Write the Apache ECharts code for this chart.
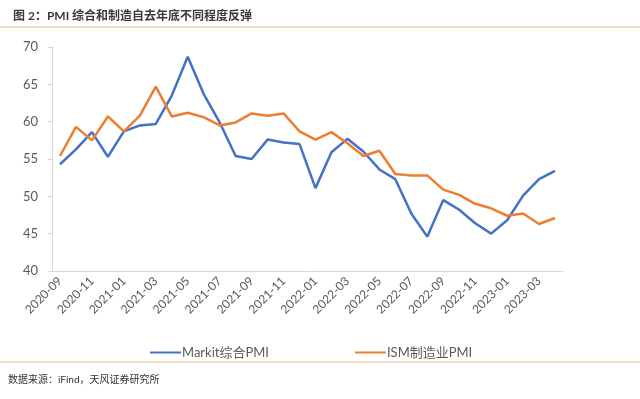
<!DOCTYPE html>
<html>
<head>
<meta charset="utf-8">
<script src="https://cdn.jsdelivr.net/npm/echarts@6/dist/echarts.min.js"></script>
<style>
  html, body { margin: 0; padding: 0; background: #fff; }
  #main { width: 640px; height: 399px; }
</style>
</head>
<body>
<div id="main"></div>
<script>
// 月份
const months = [
  '2020-09', '2020-10', '2020-11', '2020-12', '2021-01', '2021-02', '2021-03', '2021-04',
  '2021-05', '2021-06', '2021-07', '2021-08', '2021-09', '2021-10', '2021-11', '2021-12',
  '2022-01', '2022-02', '2022-03', '2022-04', '2022-05', '2022-06', '2022-07', '2022-08',
  '2022-09', '2022-10', '2022-11', '2022-12', '2023-01', '2023-02', '2023-03', '2023-04'
];
const markitPMI = [
  54.3, 56.3, 58.6, 55.3, 58.7, 59.5, 59.7, 63.5,
  68.7, 63.7, 59.9, 55.4, 55.0, 57.6, 57.2, 57.0,
  51.1, 55.9, 57.7, 56.0, 53.6, 52.3, 47.7, 44.6,
  49.5, 48.2, 46.4, 45.0, 46.8, 50.1, 52.3, 53.4
];
const ismPMI = [
  55.4, 59.3, 57.5, 60.7, 58.7, 60.8, 64.7, 60.7,
  61.2, 60.6, 59.5, 59.9, 61.1, 60.8, 61.1, 58.7,
  57.6, 58.6, 57.1, 55.4, 56.1, 53.0, 52.8, 52.8,
  50.9, 50.2, 49.0, 48.4, 47.4, 47.7, 46.3, 47.1
];
const seriesNames = ['Markit综合PMI', 'ISM制造业PMI'];
const titleText = '图 2：PMI 综合和制造自去年底不同程度反弹';
const sourceText = '数据来源：iFind，天风证券研究所';

const font = "Lato, 'Noto Sans CJK SC', sans-serif";
const chart = echarts.init(document.getElementById('main'));

chart.setOption({
  backgroundColor: '#ffffff',
  animation: false,
  color: ['#4472C4', '#ED7D31'],
  textStyle: { fontFamily: font },
  title: {
    text: titleText,
    left: 8,
    top: 5,
    textStyle: { fontSize: 12, fontWeight: 'bold', color: '#3a3a3a', fontFamily: font }
  },
  graphic: [
    { type: 'line', shape: { x1: 0, y1: 27, x2: 640, y2: 27 }, style: { stroke: '#E3B98A', lineWidth: 1 } },
    { type: 'line', shape: { x1: 0, y1: 362, x2: 640, y2: 362 }, style: { stroke: '#E3B98A', lineWidth: 1 } },
    { type: 'text', left: 8, top: 375, style: { text: sourceText, fontSize: 10, fill: '#333', fontFamily: font } }
  ],
  legend: {
    data: seriesNames,
    left: 145,
    top: 341,
    icon: 'rect',
    itemWidth: 31,
    itemHeight: 2,
    itemGap: 86,
    textStyle: { fontSize: 13, color: '#595959', padding: [0, 0, 0, -4] }
  },
  grid: { left: 52, right: 77, top: 47, bottom: 128, containLabel: false },
  xAxis: {
    type: 'category',
    data: months,
    boundaryGap: true,
    axisLine: { lineStyle: { color: '#D9D9D9' } },
    axisTick: { interval: 1, length: 5, lineStyle: { color: '#D9D9D9' } },
    axisLabel: { interval: 1, rotate: 45, fontSize: 12, color: '#595959', margin: 8 }
  },
  yAxis: {
    type: 'value',
    min: 40,
    max: 70,
    interval: 5,
    splitLine: { show: false },
    axisLine: { show: true, lineStyle: { color: '#D9D9D9' } },
    axisTick: { show: true, length: 4, lineStyle: { color: '#D9D9D9' } },
    axisLabel: { fontSize: 13, color: '#595959', margin: 14 }
  },
  series: [
    { name: seriesNames[0], type: 'line', data: markitPMI, symbol: 'none', lineStyle: { width: 2.5 } },
    { name: seriesNames[1], type: 'line', data: ismPMI, symbol: 'none', lineStyle: { width: 2.5 } }
  ]
});
</script>
</body>
</html>
